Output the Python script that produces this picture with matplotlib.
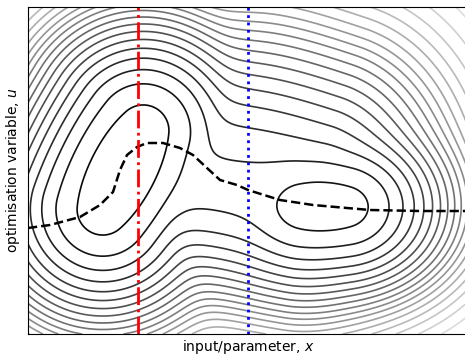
import numpy as np
import matplotlib.pyplot as plt

# objective landscape: two wells joined by a shallow channel
# wells: centre (x, u), axis angle (deg), flat half-length, round share, u-stretch, offset, curvature
well_c = [(95.0, 164.0), (297.0, 127.0)]
well_ang = [62.8, 0.0]
well_h = [54.0, 27.0]
well_round = [0.18, 0.3]
well_ku = [1.0, 1.2]
well_off = [0.0, 1846.0]
well_k = [1.0, 1.06]
# channel between the wells: upper edge and floor
chan_a, chan_b = (147.0, 174.0), (275.0, 129.0)
floor_a, floor_b = (160.0, 150.0), (275.0, 131.0)
chan_off = 3650.0
chan_k_below = 1.1
chan_k_above, chan_k_end = 0.503, 0.7

# contour levels
lev0, lev_step, n_lev = 1089.0, 1530.0, 30
cap_lo, cap_hi = 1089.0 + 1530.0 * 11, 1089.0 + 1530.0 * 21

# optimal path u*(x)
path_x = [0, 22, 52, 72, 85, 92, 99, 109, 119, 135, 152, 165, 179, 192,
          209, 220, 252, 285, 319, 342, 392, 440]
path_u = [106, 109, 117, 129, 142, 164, 179, 187, 191, 191, 186, 179, 166, 154,
          149, 144, 134, 129, 126, 124, 123, 123]

x_red = 110
x_blue = 220


def sig(z):
    return 1 / (1 + np.exp(-z))


x = np.linspace(0, 440, 520)
u = np.linspace(0, 327, 420)
X, U = np.meshgrid(x, u)

g = []
for i in range(2):
    th = np.radians(well_ang[i])
    ex, eu = np.cos(th), np.sin(th)
    wx, wu = X - well_c[i][0], (U - well_c[i][1]) * well_ku[i]
    a = wx * ex + wu * eu
    p = -wx * eu + wu * ex
    gam = well_round[i]
    along = gam * a**2 + (1 - gam) * np.maximum(np.abs(a) - well_h[i], 0)**2
    g.append(well_off[i] + well_k[i] * (p**2 + along))

# above the channel: distance to its line, with a rounded end past the right well
vx, vu = chan_b[0] - chan_a[0], chan_b[1] - chan_a[1]
Lc = np.hypot(vx, vu)
ex, eu = vx / Lc, vu / Lc
wx, wu = X - chan_a[0], U - chan_a[1]
along = wx * ex + wu * eu
side = -wx * eu + wu * ex
m_above = (chan_k_above * side**2 + chan_k_end * np.maximum(along - Lc, 0)**2
           + chan_k_above * np.maximum(-along, 0)**2)

# below the channel: distance to the floor segment
fx, fu = floor_b[0] - floor_a[0], floor_b[1] - floor_a[1]
wx, wu = X - floor_a[0], U - floor_a[1]
t = np.clip((wx * fx + wu * fu) / (fx * fx + fu * fu), 0, 1)
m_below = chan_k_below * ((wx - t * fx)**2 + (wu - t * fu)**2)

w = sig((X - 150) / 35.) * sig(side / 20.)
g.append(chan_off + (1 - w) * m_below + w * m_above)

T = 8.0
r = [np.sqrt(gi) for gi in g]
R = -T * np.log(sum(np.exp(-(ri - r[0]) / T) for ri in r)) + r[0]
G = R**2
# soften the far field
over = np.maximum(G - cap_lo, 0)
G = np.where(G > cap_lo, cap_lo + (cap_hi - cap_lo) * (1 - np.exp(-over / (cap_hi - cap_lo))), G)

levels = lev0 + lev_step * np.arange(n_lev)

fig = plt.figure(figsize=(4.65, 3.56), dpi=100)
ax = fig.add_axes([28/465., 22/356., 440/465., 327/356.])
ax.contour(X, U, G, levels=levels, cmap='gray', linewidths=1.2,
           vmin=0, vmax=lev0 + lev_step * 21)
ax.plot(path_x, path_u, 'k--', lw=1.8)
ax.axvline(x_red, color='red', ls='-.', lw=2)
ax.axvline(x_blue, color='blue', ls=':', lw=2)
ax.set_xlim(0, 440)
ax.set_ylim(0, 327)
ax.set_xticks([])
ax.set_yticks([])
ax.set_xlabel('input/parameter, $x$', fontsize=10, labelpad=3)
ax.set_ylabel('optimisation variable, $u$', fontsize=10, labelpad=4)
fig.savefig('out.png', dpi=100)
